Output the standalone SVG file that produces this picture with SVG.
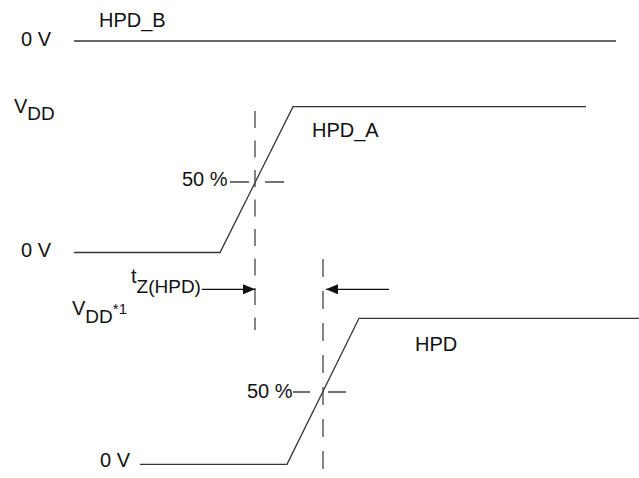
<svg xmlns="http://www.w3.org/2000/svg" width="639" height="478" viewBox="0 0 639 478">
  <defs>
    <style>
      .t { font-family: "Liberation Sans", Arial, sans-serif; font-size: 20px; fill: #111; }
      .sub { font-size: 19px; }
      .sup { font-size: 15px; }
      .wave { fill: none; stroke: #333; stroke-width: 1.3; }
      .dash { fill: none; stroke: #444; stroke-width: 1.3; }
      .arr { fill: none; stroke: #111; stroke-width: 1.3; }
    </style>
    <marker id="ah" viewBox="0 0 12 10" refX="12" refY="5" markerWidth="12" markerHeight="10" markerUnits="userSpaceOnUse" orient="auto">
      <path d="M0,0 L12,5 L0,10 Z" fill="#111"/>
    </marker>
  </defs>
  <rect width="639" height="478" fill="#fff"/>

  <g id="hpd_b">
    <text class="t" x="21" y="46">0 V</text>
    <text class="t" x="99" y="27">HPD_B</text>
    <path class="wave" d="M74,41 H616"/>
  </g>

  <g id="hpd_a">
    <text class="t" x="14" y="113">V<tspan class="sub" dy="7">DD</tspan></text>
    <text class="t" x="21" y="257">0 V</text>
    <text class="t" x="312" y="137">HPD_A</text>
    <text class="t" x="182" y="186">50 %</text>
    <path class="wave" d="M74,252.5 H220 L293,106.7 H586"/>
  </g>

  <g id="hpd">
    <text class="t" x="72" y="315">V<tspan class="sub" dy="7.5">DD</tspan><tspan class="sup" dy="-9">*1</tspan></text>
    <text class="t" x="100" y="467">0 V</text>
    <text class="t" x="415" y="351">HPD</text>
    <text class="t" x="247" y="397.5">50 %</text>
    <path class="wave" d="M140,464.3 H287 L359,318.3 H639"/>
  </g>

  <g id="timing_label">
    <text class="t" x="131" y="283">t<tspan class="sub" dy="10">Z(HPD)</tspan></text>
  </g>

  <g id="connectors">
    <path class="dash" d="M255,111 V330" stroke-dasharray="17 12.5"/>
    <path class="dash" d="M323,259 V478" stroke-dasharray="18 14"/>
    <path class="dash" d="M230,182 H249 M265,182 H284"/>
    <path class="dash" d="M293,392 H310 M328,392 H346"/>
    <path class="arr" d="M202,289.3 H255" marker-end="url(#ah)"/>
    <path class="arr" d="M389,289.3 H326" marker-end="url(#ah)"/>
  </g>
</svg>
